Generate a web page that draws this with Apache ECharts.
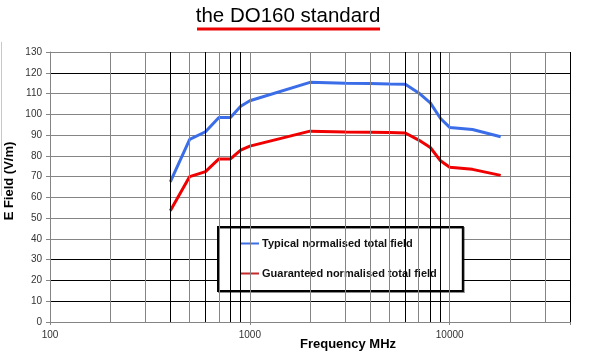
<!DOCTYPE html>
<html>
<head>
<meta charset="utf-8">
<script src="https://cdn.jsdelivr.net/npm/echarts@6/dist/echarts.min.js"></script>
<style>html,body{margin:0;padding:0;background:#fff;}#c{width:589px;height:352px;}</style>
</head>
<body>
<div id="c"></div>
<script>
// ---- data ----
var typicalFreq    = [400, 500, 600, 700, 800, 900, 1000, 2000, 3000, 4000, 5000, 6000, 7000, 8000, 9000, 10000, 13000, 18000];
var typicalField   = [67.5, 87.9, 91.6, 98.5, 98.5, 103.9, 106.5, 115.4, 115.0, 114.8, 114.6, 114.5, 110.3, 105.5, 98.0, 93.7, 92.7, 89.2];
var guaranteedFreq  = [400, 500, 600, 700, 800, 900, 1000, 2000, 3000, 4000, 5000, 6000, 7000, 8000, 9000, 10000, 13000, 18000];
var guaranteedField = [53.6, 70.0, 72.4, 78.5, 78.5, 82.8, 84.7, 91.9, 91.5, 91.4, 91.2, 91.0, 87.6, 84.0, 77.6, 74.5, 73.5, 70.6];
var seriesNames = ['Typical normalised total field', 'Guaranteed normalised total field'];
var xTickLabels = [100, 1000, 10000];
var gridFreqs   = [200, 300, 400, 500, 600, 700, 800, 900, 1000, 2000, 3000, 4000, 5000, 6000, 7000, 8000, 9000, 10000, 20000, 30000, 40000];
var darkGridFreqs = [400, 600, 800, 900, 6000, 8000, 9000, 40000];
var darkGridValues = [10, 20, 30, 120];

function pairs(xs, ys) { return xs.map(function (x, i) { return [x, ys[i]]; }); }

var GRAY = '#858585', BLACK = '#000';
var yColors = [];
for (var v = 0; v <= 130; v += 10) yColors.push(darkGridValues.indexOf(v) >= 0 ? BLACK : GRAY);

var vLines = gridFreqs.map(function (f) {
  return { xAxis: f, lineStyle: { color: darkGridFreqs.indexOf(f) >= 0 ? BLACK : GRAY, width: 1, type: 'solid' } };
});

var chart = echarts.init(document.getElementById('c'), null, { renderer: 'canvas' });
chart.setOption({
  animation: false,
  backgroundColor: '#fff',
  textStyle: { fontFamily: 'Liberation Sans, Arial, sans-serif' },
  grid: { left: 50, top: 52, width: 520, height: 270, containLabel: false },
  xAxis: {
    type: 'log', logBase: 10, min: 100, max: 40000,
    axisLine: { show: true, lineStyle: { color: GRAY, width: 1 } },
    axisTick: { show: true, length: 3, lineStyle: { color: GRAY } },
    axisLabel: {
      margin: 8, fontSize: 10, color: '#333', fontFamily: 'Liberation Sans, Arial, sans-serif',
      formatter: function (val) { return xTickLabels.indexOf(Math.round(val)) >= 0 ? String(Math.round(val)) : ''; }
    },
    splitLine: { show: false },
    minorTick: { show: false }, minorSplitLine: { show: false }
  },
  yAxis: {
    type: 'value', min: 0, max: 130, interval: 10,
    axisLine: { show: true, lineStyle: { color: GRAY, width: 1 } },
    axisTick: { show: true, length: 4, lineStyle: { color: GRAY } },
    axisLabel: { margin: 8, fontSize: 10, color: '#333', fontFamily: 'Liberation Sans, Arial, sans-serif' },
    splitLine: { show: true, lineStyle: { color: yColors, width: 1 } }
  },
  legend: {
    left: 218, top: 227, orient: 'vertical',
    padding: [11, 26, 12, 22], itemGap: 19, itemWidth: 19, itemHeight: 2,
    icon: 'rect',
    backgroundColor: '#fff', borderColor: '#000', borderWidth: 2,
    shadowColor: 'rgba(0,0,0,0.45)', shadowOffsetX: 1, shadowOffsetY: 1, shadowBlur: 0,
    textStyle: { fontSize: 11, fontWeight: 'bold', color: '#111', fontFamily: 'Liberation Sans, Arial, sans-serif', padding: [0, 0, 0, -2] },
    data: [
      { name: seriesNames[0], icon: 'rect', itemStyle: { color: '#3d6fe4' } },
      { name: seriesNames[1], icon: 'rect', itemStyle: { color: '#c42a2a' } }
    ]
  },
  series: [
    {
      name: 'grid', type: 'line', data: [], z: 1, silent: true,
      markLine: { silent: true, symbol: ['none', 'none'], label: { show: false }, animation: false, data: vLines }
    },
    {
      name: seriesNames[0], type: 'line', z: 3, symbol: 'none',
      lineStyle: { color: '#3b6de8', width: 3 }, itemStyle: { color: '#3b6de8' },
      data: pairs(typicalFreq, typicalField)
    },
    {
      name: seriesNames[1], type: 'line', z: 3, symbol: 'none',
      lineStyle: { color: '#f00000', width: 3 }, itemStyle: { color: '#f00000' },
      data: pairs(guaranteedFreq, guaranteedField)
    }
  ],
  graphic: [
    { type: 'text', x: 288, y: 6, style: { text: 'the DO160 standard', font: '20.5px Liberation Sans, Arial, sans-serif', fill: '#000', textAlign: 'center', textVerticalAlign: 'top' } },
    { type: 'rect', shape: { x: 197, y: 27.5, width: 183, height: 3 }, style: { fill: '#ee0000' } },
    { type: 'text', x: 9, y: 181, rotation: Math.PI / 2, style: { text: 'E Field (V/m)', font: 'bold 13px Liberation Sans, Arial, sans-serif', fill: '#000', textAlign: 'center', textVerticalAlign: 'middle' } },
    { type: 'text', x: 348, y: 344, style: { text: 'Frequency MHz', font: 'bold 13px Liberation Sans, Arial, sans-serif', fill: '#000', textAlign: 'center', textVerticalAlign: 'middle' } },
    { type: 'line', shape: { x1: 1.5, y1: 42, x2: 1.5, y2: 196 }, style: { stroke: '#c8c8c8', lineWidth: 1 } }
  ]
});
</script>
</body>
</html>
